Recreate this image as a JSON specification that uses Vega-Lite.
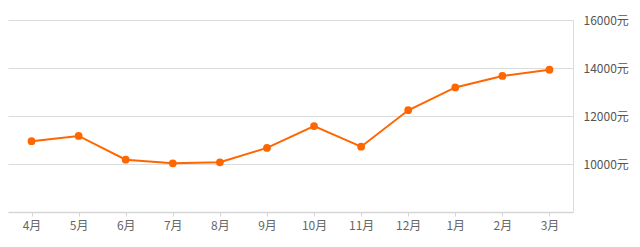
{
  "$schema": "https://vega.github.io/schema/vega-lite/v6.json",
  "width": 565,
  "height": 192,
  "padding": {"left": 8, "top": 20, "right": 67, "bottom": 35},
  "autosize": "none",
  "background": "#ffffff",
  "config": {"view": {"stroke": null}, "font": "Noto Sans CJK SC"},
  "data": {"values": [
    {"month": "4月", "price": 10950},
    {"month": "5月", "price": 11170},
    {"month": "6月", "price": 10180},
    {"month": "7月", "price": 10030},
    {"month": "8月", "price": 10070},
    {"month": "9月", "price": 10670},
    {"month": "10月", "price": 11580},
    {"month": "11月", "price": 10720},
    {"month": "12月", "price": 12240},
    {"month": "1月", "price": 13190},
    {"month": "2月", "price": 13670},
    {"month": "3月", "price": 13930}
  ]},
  "encoding": {
    "x": {
      "field": "month", "type": "ordinal", "sort": null,
      "scale": {"type": "point", "padding": 0.5},
      "axis": {"title": null, "labelAngle": 0, "grid": false, "domainColor": "#d6d6d6", "domainWidth": 1.5,
               "tickColor": "#d6d6d6", "tickSize": 4, "labelPadding": 4, "labelFontSize": 12, "labelColor": "#666666", "labelFont": "Noto Sans CJK SC"}
    },
    "y": {
      "field": "price", "type": "quantitative",
      "scale": {"domain": [8000, 16000], "nice": false, "zero": false},
      "axis": {"title": null, "orient": "right", "values": [10000, 12000, 14000, 16000], "labelExpr": "datum.value + '元'",
               "grid": true, "gridColor": "#dcdcdc", "ticks": false, "domainColor": "#dcdcdc", "labelPadding": 10,
               "labelFontSize": 12, "labelColor": "#555555", "labelFont": "Noto Sans CJK SC"}
    }
  },
  "layer": [
    {"mark": {"type": "line", "color": "#ff6600", "strokeWidth": 2}},
    {"mark": {"type": "point", "filled": true, "color": "#ff6600", "size": 60, "opacity": 1}}
  ]
}
